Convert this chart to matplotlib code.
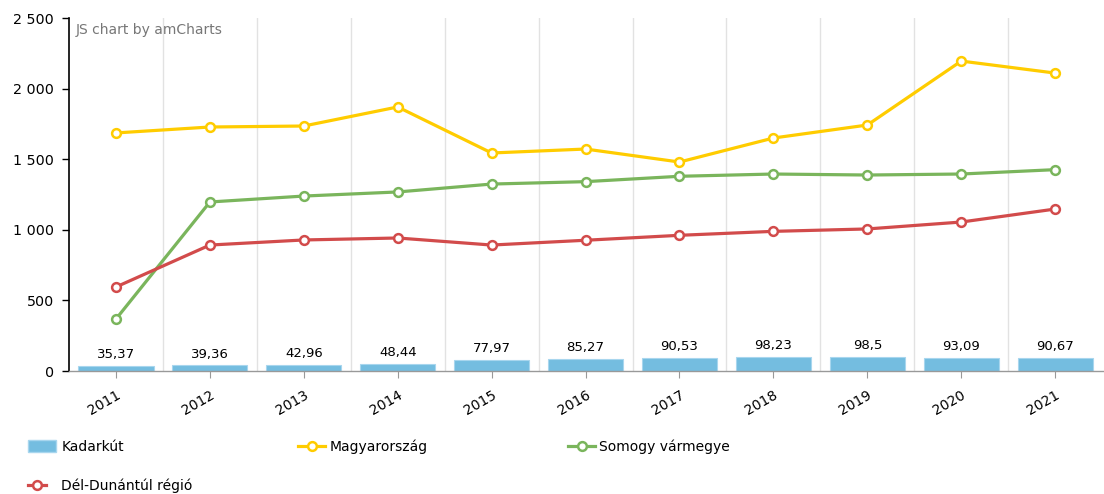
import matplotlib
matplotlib.use("Agg")
import matplotlib.pyplot as plt
from matplotlib.lines import Line2D
from matplotlib.patches import Patch
from matplotlib.ticker import FuncFormatter, MultipleLocator
import numpy as np

years = ["2011", "2012", "2013", "2014", "2015", "2016", "2017", "2018", "2019", "2020", "2021"]
kadarkut = [35.37, 39.36, 42.96, 48.44, 77.97, 85.27, 90.53, 98.23, 98.5, 93.09, 90.67]
magyarorszag = [1686, 1728, 1735, 1870, 1544, 1572, 1480, 1650, 1742, 2195, 2110]
somogy = [368, 1197, 1239, 1268, 1324, 1341, 1379, 1395, 1388, 1395, 1426]
del_dunantul = [595, 892, 928, 942, 892, 926, 961, 989, 1006, 1055, 1147]

C_BAR = "#74bde0"
C_YEL = "#ffcc00"
C_GRN = "#7ab55c"
C_RED = "#d24b4b"
TXT = "#000000"

plt.rcParams["font.family"] = ["DejaVu Sans"]

fig = plt.figure(figsize=(11.04, 4.94), dpi=100)
ax = fig.add_axes([69 / 1104, (494 - 371) / 494, (1104 - 69) / 1104, (371 - 18) / 494])

x = np.arange(len(years))
ax.bar(x, kadarkut, width=0.8, color=C_BAR, edgecolor="#a8d6ee", linewidth=0.8, zorder=2)
for xi, v in zip(x, kadarkut):
    ax.annotate(f"{v:g}".replace(".", ","), (xi, v), xytext=(0, 3.5), textcoords="offset points",
                ha="center", va="bottom", fontsize=9.5, color=TXT, zorder=5)

lw = 2.3
MS = 6.3
MEW = 1.8
mk = dict(marker="o", markersize=MS, markerfacecolor="white", markeredgewidth=MEW)
ax.plot(x, magyarorszag, color=C_YEL, lw=lw, markeredgecolor=C_YEL, zorder=4, **mk)
ax.plot(x, somogy, color=C_GRN, lw=lw, markeredgecolor=C_GRN, zorder=4, **mk)
ax.plot(x, del_dunantul, color=C_RED, lw=lw, markeredgecolor=C_RED, zorder=4, **mk)

ax.set_xlim(-0.5, len(years) - 0.5 + 0.02)
ax.set_ylim(0, 2500)
ax.yaxis.set_major_locator(MultipleLocator(500))
ax.yaxis.set_major_formatter(FuncFormatter(lambda v, p: f"{int(v):,}".replace(",", " ")))
ax.set_xticks(x)
ax.set_xticklabels(years, rotation=30, ha="right", rotation_mode="anchor")
ax.tick_params(axis="y", labelsize=10.3, length=5, width=1, color="#000000", pad=6, labelcolor=TXT)
ax.tick_params(axis="x", labelsize=10, length=5, width=0.8, color="#999999", pad=7, labelcolor=TXT)

for b in np.arange(0.5, len(years) - 0.5, 1.0):
    ax.axvline(b, color="#e2e2e2", lw=1, zorder=0)

for s in ["top", "right"]:
    ax.spines[s].set_visible(False)
ax.spines["left"].set_color("#000000")
ax.spines["left"].set_linewidth(1.2)
ax.spines["bottom"].set_color("#999999")
ax.spines["bottom"].set_linewidth(1)
ax.set_facecolor("white")

ax.text(0.006, 0.985, "JS chart by amCharts", transform=ax.transAxes, ha="left", va="top",
        fontsize=10, color="#777777")


def legend_at(handle, label, xpix, ypix, hl, pad, hh=0.7):
    lg = fig.legend([handle], [label], loc="center left",
                    bbox_to_anchor=(xpix / 1104, 1 - ypix / 494), frameon=False,
                    fontsize=10, handlelength=hl, handletextpad=pad, handleheight=hh,
                    borderaxespad=0, borderpad=0)
    for t in lg.get_texts():
        t.set_color(TXT)
    return lg


def line_handle(c):
    return Line2D([], [], color=c, lw=lw, marker="o", markersize=MS, markerfacecolor="white",
                  markeredgecolor=c, markeredgewidth=MEW)


h_bar = Patch(facecolor=C_BAR, edgecolor="#a8d6ee")
legend_at(h_bar, "Kadarkút", 28, 447, 2.0, 0.45, hh=0.9)
legend_at(line_handle(C_YEL), "Magyarország", 298, 447, 1.95, 0.3)
legend_at(line_handle(C_GRN), "Somogy vármegye", 568, 447, 1.95, 0.3)
legend_at(line_handle(C_RED), "Dél-Dunántúl régió", 28, 486, 1.3, 1.05)

fig.savefig("out.png", dpi=100, facecolor="white")
